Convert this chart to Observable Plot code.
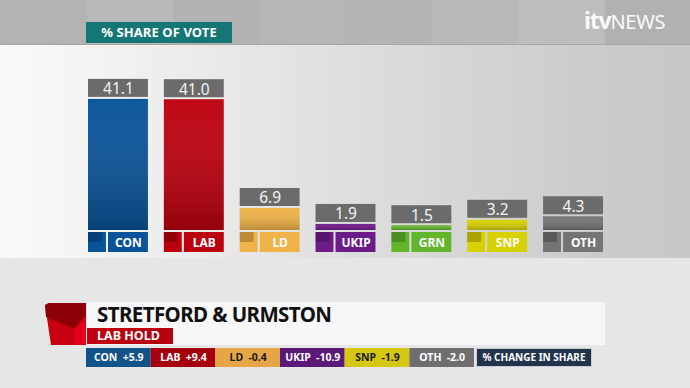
<!DOCTYPE html>
<html>
<head>
<meta charset="utf-8">
<script src="https://cdn.jsdelivr.net/npm/d3@7"></script>
<script src="https://cdn.jsdelivr.net/npm/@observablehq/plot@0.6"></script>
<style>
  body { margin: 0; background: #e6e6e6; }
  #stage { position: relative; width: 690px; height: 388px; overflow: hidden; background: #e6e6e6; font-family: "Noto Sans", "Open Sans", sans-serif; }
  .topband { position: absolute; left: 0; top: 0; width: 690px; height: 44px;
    background: linear-gradient(to right, #b3b3b3 0 87px, #b9b9b9 87px 173px, #b2b2b2 173px 260px, #b6b6b6 260px 345px, #b4b4b4 345px 432px, #b8b8b8 432px 518px, #bdbdbd 518px 605px, #b1b1b1 605px);
    border-bottom: 1px solid #a6a6a6; }
  .panel { position: absolute; left: 0; top: 45px; width: 690px; height: 213px;
    background: linear-gradient(to right, #fafafa 0px, #efefef 150px, #e2e2e2 300px, #d6d6d6 450px, #cbcbcb 600px, #c7c7c7 690px); }
  .title { position: absolute; left: 86px; top: 22px; width: 146px; height: 21px; background: #157676;
    color: #fff; font-weight: 700; font-size: 13px; line-height: 21px; text-align: center; letter-spacing: 0.1px; }
  .logo { position: absolute; left: 584px; top: 4px; color: #fafafa; white-space: nowrap; }
  .logo .itv { font-weight: 700; font-size: 23px; letter-spacing: -1.2px; }
  .logo .news { font-weight: 400; font-size: 20px; letter-spacing: -0.3px; }
  #chart, #change { position: absolute; left: 0; }
  #chart { top: 0; }
  #change { top: 348px; }
  .cube { position: absolute; left: 0; top: 0; }
  .namebox { position: absolute; left: 87px; top: 302px; width: 518px; height: 43px; background: #f7f6f8; }
  .name { position: absolute; left: 97px; top: 300px; font-weight: 700; font-size: 20.5px; color: #111; white-space: nowrap; letter-spacing: -0.6px; }
  .hold { position: absolute; left: 87px; top: 328px; width: 86px; height: 16px; background: linear-gradient(to right, #c4000f, #b3000d);
    color: #fff; font-weight: 700; font-size: 12.5px; line-height: 16px; padding-left: 10px; box-sizing: border-box; white-space: nowrap; }
  .changelabel { position: absolute; left: 476px; top: 348px; width: 116px; height: 19px; box-sizing: border-box; background: #22344b;
    border: 1px solid #c9ced6; color: #fff; font-weight: 700; font-size: 10px; line-height: 17px; text-align: center; white-space: nowrap; }
</style>
</head>
<body>
<div id="stage">
  <div class="topband"></div>
  <div class="panel"></div>
  <div class="title">% SHARE OF VOTE</div>
  <div class="logo"><span class="itv">itv</span><span class="news">NEWS</span></div>
  <div id="chart"></div>
  <div class="namebox"></div>
  <svg class="cube" width="690" height="388">
    <polygon points="45,305 49,303 86,303 86,345 51,345" fill="#c8000f"/>
    <polygon points="45,305 49,303 86,303 86,316 74,329 46,317" fill="#8e0008"/>
    <polygon points="74,329 86,316 86,345 74,345" fill="#e2001a"/>
  </svg>
  <div class="name">STRETFORD &amp; URMSTON</div>
  <div class="hold">LAB HOLD</div>
  <div id="change"></div>
  <div class="changelabel">% CHANGE IN SHARE</div>
</div>
<script>
// ---- data ----
const parties = ["CON", "LAB", "LD", "UKIP", "GRN", "SNP", "OTH"];
const shares = [41.1, 41.0, 6.9, 1.9, 1.5, 3.2, 4.3];
const partyColors = ["#08539a", "#bd000e", "#f0b347", "#6e1b8a", "#63b52c", "#d8d100", "#747474"];

const changeParties = ["CON", "LAB", "LD", "UKIP", "SNP", "OTH"];
const changes = [5.9, 9.4, -0.4, -10.9, -1.9, -2.0];
const changeColors = ["#12538a", "#a6000f", "#e6a648", "#5b1a77", "#d6c812", "#6e6e6e"];
const darkText = ["LD", "SNP"];

// ---- tables ----
const rows = parties.map((p, i) => ({party: p, share: shares[i]}));
const changeRows = changeParties.map((p, i) => ({party: p, change: changes[i]}));
const signed = v => (v > 0 ? "+" : "") + v.toFixed(1);

// ---- main bar chart ----
const chart = Plot.plot({
  width: 690,
  height: 388,
  marginLeft: 88,
  marginRight: 87,
  marginTop: 70.5,
  marginBottom: 158,
  style: {background: "transparent", overflow: "visible"},
  x: {domain: parties, paddingInner: 0.21, paddingOuter: 0, round: false, axis: null},
  y: {domain: [0, 50], axis: null},
  color: {domain: parties, range: partyColors},
  marks: [
    // main bars
    Plot.barY(rows, {x: "party", y: "share", fill: "party"}),
    Plot.barY(rows, {x: "party", y: "share", fill: "url(#shade)"}),
    // value boxes above bars
    Plot.barY(rows, {x: "party", y1: d => d.share, y2: d => d.share, insetTop: -20, insetBottom: 2, fill: "#6b6b6b"}),
    Plot.text(rows, {x: "party", y: "share", dy: -10, text: d => d.share.toFixed(1), fill: "#f4f4f4", fontSize: 15.5, fontFamily: "Noto Sans, sans-serif"}),
    // label row: icon + name box
    Plot.barY(rows, {x: "party", y1: () => 0, y2: () => 0, insetTop: 2, insetBottom: -22, insetRight: 42, fill: "party"}),
    Plot.barY(rows, {x: "party", y1: () => 0, y2: () => 0, insetTop: 2, insetBottom: -12, insetRight: 46, fill: "#000", fillOpacity: 0.22}),
    Plot.barY(rows, {x: "party", y1: () => 0, y2: () => 0, insetTop: 2, insetBottom: -22, insetLeft: 20, fill: "party"}),
    Plot.text(rows, {x: "party", y: () => 0, dy: 12.5, dx: 10, text: "party", fill: "#fff", fontWeight: 700, fontSize: 12, fontFamily: "Noto Sans, sans-serif"})
  ]
});
const defs = d3.select(chart).insert("defs", ":first-child");
const gr = defs.append("linearGradient").attr("id", "shade").attr("x1", 0).attr("y1", 0).attr("x2", 0).attr("y2", 1);
gr.append("stop").attr("offset", "0%").attr("stop-color", "#fff").attr("stop-opacity", 0.03);
gr.append("stop").attr("offset", "100%").attr("stop-color", "#000").attr("stop-opacity", 0.22);
document.getElementById("chart").appendChild(chart);

// ---- change strip ----
const strip = Plot.plot({
  width: 690,
  height: 19,
  marginLeft: 86,
  marginRight: 216,
  marginTop: 0,
  marginBottom: 0,
  style: {background: "transparent", overflow: "visible"},
  x: {domain: changeParties, padding: 0, round: false, axis: null},
  color: {domain: changeParties, range: changeColors},
  marks: [
    Plot.cell(changeRows, {x: "party", fill: "party"}),
    Plot.text(changeRows.filter(d => !darkText.includes(d.party)), {x: "party", text: d => d.party + "\u2002" + signed(d.change), fill: "#fff", fontWeight: 700, fontSize: 10.5, fontFamily: "Noto Sans, sans-serif"}),
    Plot.text(changeRows.filter(d => darkText.includes(d.party)), {x: "party", text: d => d.party + "\u2002" + signed(d.change), fill: "#1b1b1b", fontWeight: 700, fontSize: 10.5, fontFamily: "Noto Sans, sans-serif"})
  ]
});
document.getElementById("change").appendChild(strip);
</script>
</body>
</html>
